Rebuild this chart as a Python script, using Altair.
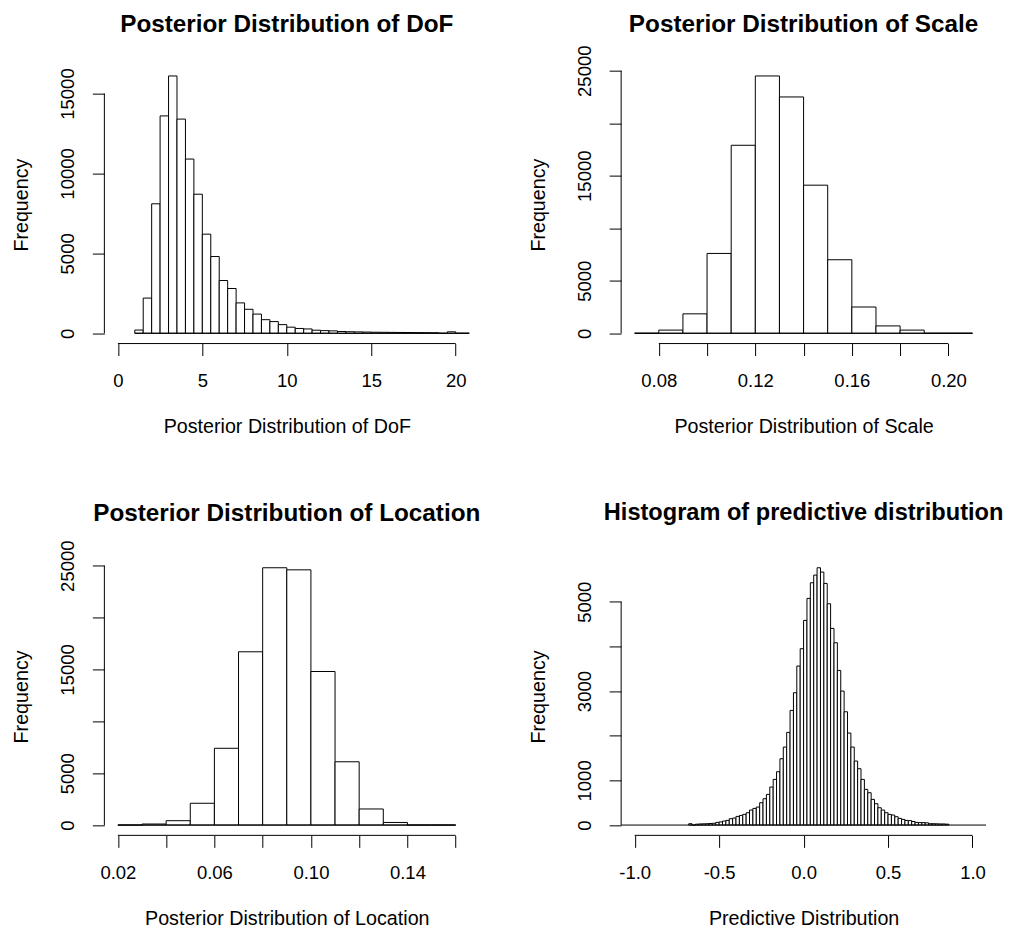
import json
import altair as alt
import pandas as pd

FONT = "Liberation Sans"

# ---------------- data ----------------
# Panel 1: DoF, bins of 0.5 starting at 1.0
dof_bin_start = 1.0
dof_bin_width = 0.5
dof_counts = [200, 2200, 8100, 13600, 16100, 13400, 10900, 8700, 6200, 4800,
              3300, 2800, 1900, 1500, 1200, 850, 730, 540, 380, 300,
              270, 190, 165, 150, 110, 95, 85, 75, 65, 60,
              55, 50, 45, 40, 35, 30, 0, 90, 0, 0]
dof_xlim = [0, 20]
dof_xticks = [0, 5, 10, 15, 20]
dof_xlabels = ["0", "5", "10", "15", "20"]
dof_yticks = [0, 5000, 10000, 15000]
dof_ylabels = ["0", "5000", "10000", "15000"]

# Panel 2: Scale, bins of 0.01 starting at 0.07
scale_bin_start = 0.07
scale_bin_width = 0.01
scale_counts = [0, 300, 1850, 7600, 17900, 24500, 22500, 14100, 7000, 2500, 700, 300, 0, 0]
scale_xlim = [0.07, 0.21]
scale_xticks = [0.08, 0.10, 0.12, 0.14, 0.16, 0.18, 0.20]
scale_xlabels = ["0.08", "", "0.12", "", "0.16", "", "0.20"]
scale_yticks = [0, 5000, 10000, 15000, 20000, 25000]
scale_ylabels = ["0", "5000", "", "15000", "", "25000"]

# Panel 3: Location, bins of 0.01 starting at 0.02
loc_bin_start = 0.02
loc_bin_width = 0.01
loc_counts = [0, 100, 420, 2100, 7400, 16700, 24800, 24600, 14800, 6100, 1550, 250, 0, 0]
loc_xlim = [0.02, 0.16]
loc_xticks = [0.02, 0.04, 0.06, 0.08, 0.10, 0.12, 0.14, 0.16]
loc_xlabels = ["0.02", "", "0.06", "", "0.10", "", "0.14", ""]
loc_yticks = [0, 5000, 10000, 15000, 20000, 25000]
loc_ylabels = ["0", "5000", "", "15000", "", "25000"]

# Panel 4: predictive distribution, bins of 0.02 starting at -0.68
pred_bin_start = -0.68
pred_bin_width = 0.02
pred_counts = [30, 0, 20, 25, 28, 30, 35, 40, 60, 70,
               90, 104, 142, 157, 194, 216, 239, 276, 336, 373,
               403, 500, 590, 687, 851, 1022, 1194, 1485, 1746, 2075,
               2567, 2963, 3560, 3948, 4582, 5075, 5425, 5597, 5761, 5664,
               5410, 4955, 4403, 4082, 3463, 3000, 2537, 2060, 1746, 1433,
               1261, 1022, 799, 724, 575, 478, 388, 336, 276, 239,
               224, 187, 149, 127, 104, 100, 80, 60, 55, 55,
               50, 30, 30, 28, 25, 25, 20]
pred_break_range = [-1.1, 1.1]
pred_xlim = [-1, 1]
pred_xticks = [-1.0, -0.5, 0.0, 0.5, 1.0]
pred_xlabels = ["-1.0", "-0.5", "0.0", "0.5", "1.0"]
pred_yticks = [0, 1000, 2000, 3000, 4000, 5000]
pred_ylabels = ["0", "1000", "", "3000", "", "5000"]

titles = ["Posterior Distribution of DoF", "Posterior Distribution of Scale",
          "Posterior Distribution of Location", "Histogram of predictive distribution"]
xtitles = ["Posterior Distribution of DoF", "Posterior Distribution of Scale",
           "Posterior Distribution of Location", "Predictive Distribution"]
ytitle = "Frequency"

W, H = 365, 278
LABEL_FS = 18.5
AXTITLE_FS = 19.7
TITLE_GAP = 28  # title offset from plot top when nothing sticks out above it


def bins_table(start, width, counts):
    return pd.DataFrame({
        "x0": [round(start + i * width, 6) for i in range(len(counts))],
        "x1": [round(start + (i + 1) * width, 6) for i in range(len(counts))],
        "count": counts,
    })


def label_expr(ticks, labels):
    return f"{json.dumps(labels)}[indexof({json.dumps(ticks)}, datum.value)]"


def top_overflow(yticks, ylabels, ydom):
    # how far the rotated y tick labels stick out above the plot area
    over = 0.0
    for t, lab in zip(yticks, ylabels):
        if not lab:
            continue
        ypx = H * (ydom[1] - t) / (ydom[1] - ydom[0])
        half = len(lab) * 0.556 * LABEL_FS / 2
        over = max(over, half - ypx)
    return over


def panel(df, brk, xlim, xticks, xlabels, yticks, ylabels, title, xtitle,
          title_fs, xtitle_y, title_extra):
    xr = xlim[1] - xlim[0]
    xdom = [xlim[0] - 0.04 * xr, xlim[1] + 0.04 * xr]
    ymax = float(df["count"].max())
    ydom = [-0.04 * ymax, 1.04 * ymax]
    xs = alt.Scale(domain=xdom, nice=False, zero=False)
    ys = alt.Scale(domain=ydom, nice=False, zero=False)
    xaxis = alt.Axis(values=xticks, labelExpr=label_expr(xticks, xlabels),
                     domain=False, grid=False, ticks=True, tickSize=12,
                     tickColor="black", tickWidth=1,
                     labelFont=FONT, labelFontSize=LABEL_FS, labelColor="black",
                     labelPadding=16, labelBaseline="top", labelAlign="center",
                     labelOverlap=False, labelFlush=False, labelBound=False,
                     title=xtitle, titleFont=FONT, titleFontSize=AXTITLE_FS,
                     titleFontWeight="normal", titleColor="black",
                     titleBaseline="alphabetic", titleY=xtitle_y, titleX=W / 2,
                     titleAlign="center")
    yaxis = alt.Axis(values=yticks, labelExpr=label_expr(yticks, ylabels),
                     domain=False, grid=False, ticks=True, tickSize=12,
                     tickColor="black", tickWidth=1,
                     labelFont=FONT, labelFontSize=LABEL_FS, labelColor="black",
                     labelAngle=270, labelPadding=19, labelBaseline="alphabetic",
                     labelAlign="center", labelOverlap=False, labelFlush=False,
                     labelBound=False,
                     title=ytitle, titleFont=FONT, titleFontSize=AXTITLE_FS,
                     titleFontWeight="normal", titleColor="black",
                     titleAngle=270, titleBaseline="alphabetic", titleX=-77,
                     titleY=H / 2, titleAlign="center")
    X = lambda f: alt.X(f, type="quantitative", scale=xs, axis=xaxis)
    Y = lambda f: alt.Y(f, type="quantitative", scale=ys, axis=yaxis)

    bars = alt.Chart(df).mark_rect(fill="white", stroke="black", strokeWidth=1,
                                   clip=True).encode(
        x=X("x0"), x2="x1", y=Y("count"), y2=alt.datum(0))

    base_df = pd.DataFrame({"x0": [brk[0]], "x1": [brk[1]], "count": [0]})
    base = alt.Chart(base_df).mark_rule(color="black", strokeWidth=1, clip=True).encode(
        x=X("x0"), x2="x1", y=Y("count"))

    xline_df = pd.DataFrame({"x0": [xticks[0]], "x1": [xticks[-1]], "count": [ydom[0]]})
    xline = alt.Chart(xline_df).mark_rule(color="black", strokeWidth=1).encode(
        x=X("x0"), x2="x1", y=Y("count"))

    yline_df = pd.DataFrame({"x0": [xdom[0]], "count": [yticks[0]], "c2": [yticks[-1]]})
    yline = alt.Chart(yline_df).mark_rule(color="black", strokeWidth=1).encode(
        x=X("x0"), y=Y("count"), y2="c2")

    toff = (TITLE_GAP - top_overflow(yticks, ylabels, ydom)
            + (title_fs - 23.5) * 0.2 + title_extra)
    return alt.layer(bars, base, xline, yline).properties(
        width=W, height=H,
        title=alt.Title(title, font=FONT, fontSize=title_fs, fontWeight="bold",
                        color="black", anchor="middle", frame="group",
                        offset=toff),
    )


p1 = panel(bins_table(dof_bin_start, dof_bin_width, dof_counts),
           [dof_bin_start, dof_bin_start + dof_bin_width * len(dof_counts)],
           dof_xlim, dof_xticks, dof_xlabels, dof_yticks, dof_ylabels,
           titles[0], xtitles[0], 24.3, 89, 0)
p2 = panel(bins_table(scale_bin_start, scale_bin_width, scale_counts),
           [scale_bin_start, scale_bin_start + scale_bin_width * len(scale_counts)],
           scale_xlim, scale_xticks, scale_xlabels, scale_yticks, scale_ylabels,
           titles[1], xtitles[1], 24.3, 89, 0)
p3 = panel(bins_table(loc_bin_start, loc_bin_width, loc_counts),
           [loc_bin_start, loc_bin_start + loc_bin_width * len(loc_counts)],
           loc_xlim, loc_xticks, loc_xlabels, loc_yticks, loc_ylabels,
           titles[2], xtitles[2], 24.3, 89, 3)
p4 = panel(bins_table(pred_bin_start, pred_bin_width, pred_counts),
           pred_break_range,
           pred_xlim, pred_xticks, pred_xlabels, pred_yticks, pred_ylabels,
           titles[3], xtitles[3], 23.6, 89, 5)

chart = alt.concat(p1, p2, p3, p4, columns=2,
                   spacing={"row": 214, "column": 152}, bounds="flush").properties(
    padding={"left": 3.4, "top": 4.5, "right": -1, "bottom": 0},
    background="white",
).configure_view(stroke=None)

chart.save("out.html", embed_options={"renderer": "svg", "actions": False})
